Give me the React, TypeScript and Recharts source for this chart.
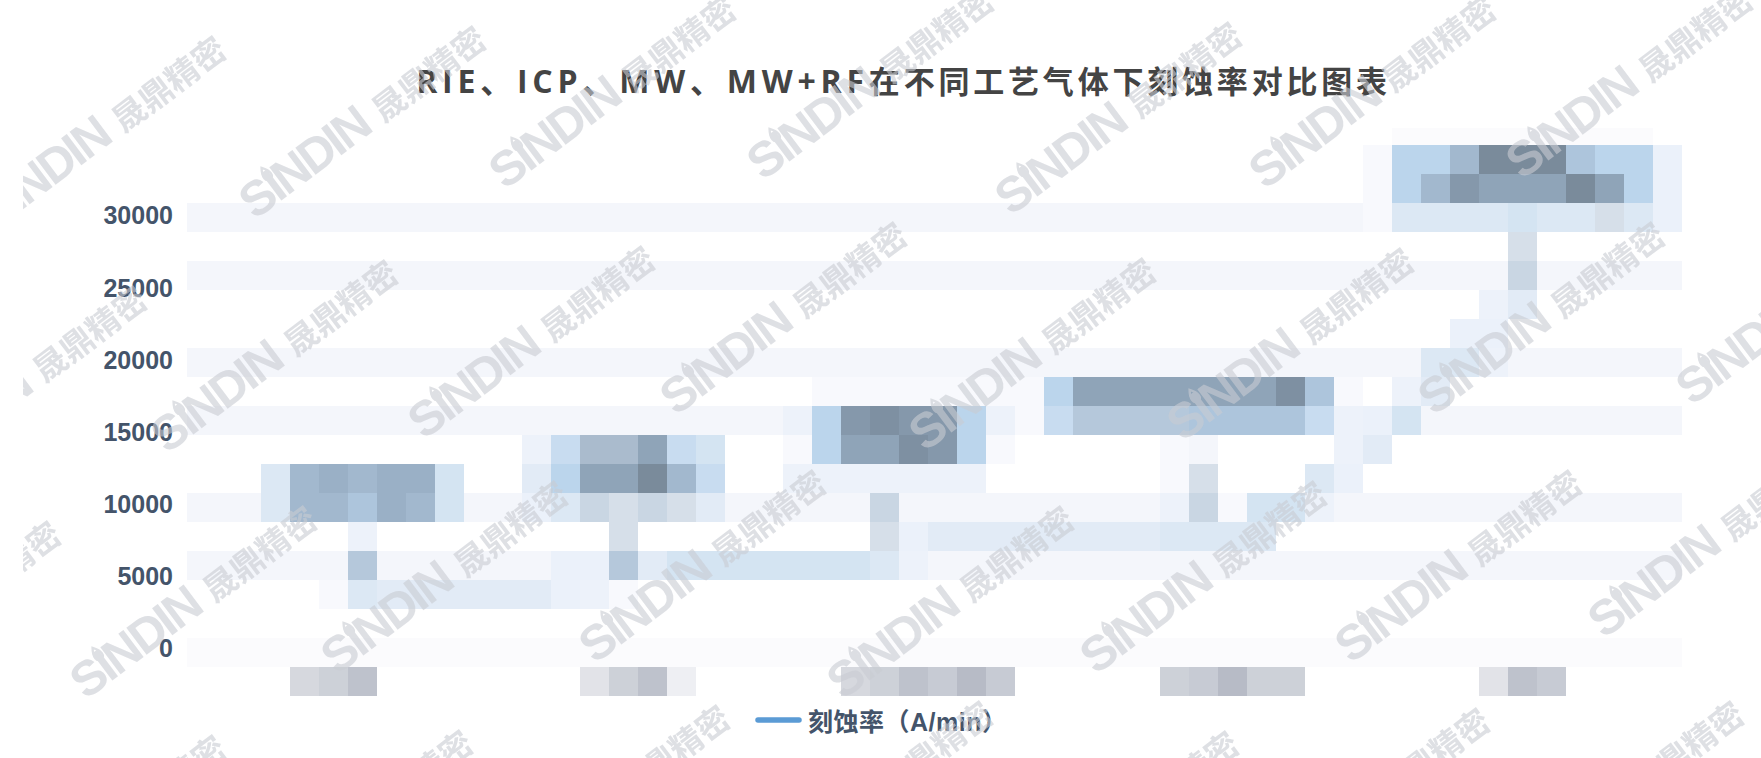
import React from "react";
import { ComposedChart, Line, XAxis, YAxis, ReferenceArea, Legend } from "recharts";

const TITLE_LATIN = "RIE、ICP、MW、MW+RF";
const TITLE_CJK = "在不同工艺气体下刻蚀率对比图表";
const SERIES_NAME = "刻蚀率（A/min）";
const yTicks = [0, 5000, 10000, 15000, 20000, 25000, 30000];

// The reference shows the marks only as a coarse mosaic: values are estimates and x labels are unreadable.
const categories = ["1", "2", "3", "4", "5"];
const etchRate = [3800, 5700, 7800, 7800, 30000];

// Mosaic shading: one level per cell. Each row lists runs of [first column, levels].
const rowRuns: [number, string][][] = [
  [[42, "ccccccccc"]],
  [[41, "djjotttkjjf"]],
  [[41, "djorqqqtqjf"]],
  [[41, "dgggghgglgf"]],
  [[46, "l"]],
  [[46, "m"]],
  [[45, "e2"]],
  [[44, "ff"]],
  [[43, "gge"]],
  [[22, "ddddddddjqqqqqqqskd.e2"]],
  [[21, "ejrsrrjedinnnnkkkkiefh"]],
  [[12, "eiPPqih"], [21, "djqqsrjd"], [34, "da"], [40, "e2"]],
  [[3, "gopopph"], [12, "2jqqtoi"], [21, "eeeeeee"], [34, "dl"], [39, "gf"]],
  [[3, "gookpoh"], [12, "fgmlml2"], [24, "m"], [34, "emdhhe"]],
  [[6, "e"], [15, "l"], [24, "lf"], [26, "22222222gggg"]],
  [[6, "n"], [13, "ffn2hhhhhhhge"]],
  [[5, "dg222222fed"]],
  [],
  [],
  [[4, "uvw"], [14, "xvwy"], [23, "uvwzBz"], [34, "vzBvv"], [45, "xwz"]],
];

const shades: Record<string, string> = {
  a: "#f4f6fb", c: "#fbfbfd", d: "#f8f9fd", e: "#edf2fa", f: "#ebf1fa", "2": "#e2ebf6",
  g: "#dce8f4", h: "#d4e4f2", i: "#c8dcf0", j: "#bbd5ec", k: "#adc5dc", l: "#d6dfe9",
  m: "#c9d6e3", n: "#b5c8db", o: "#a2b8ce", p: "#9ab0c6", P: "#aabbcd", q: "#8fa4b8",
  r: "#8598ab", s: "#7e90a2", t: "#7a8b9b", u: "#d6d8de", v: "#cdd1d8", w: "#bec2cc",
  x: "#e2e3e8", y: "#eeeff3", z: "#c7cbd4", B: "#b7bbc6",
};

const COLS = 52;
const ROWS = 20;

const BAND_ROWS: Record<number, string> = { 3: "a", 5: "a", 8: "a", 10: "a", 13: "a", 15: "a", 18: "c" };

type MosaicCell = { col: number; row: number; level: string };
const cells: MosaicCell[] = [];
for (let row = 0; row < ROWS; row++) {
  const levels: string[] = new Array(COLS).fill(BAND_ROWS[row] || ".");
  for (const [start, run] of rowRuns[row]) {
    run.split("").forEach((ch, i) => { levels[start + i] = ch; });
  }
  levels.forEach((level, col) => { if (level !== ".") cells.push({ col, row, level }); });
}

const chartData = categories.map((name, i) => ({ name, rate: etchRate[i], col: i }));

// Watermark anchors (position of the droplet over the logotype).
const marks: [number, number][] = [
  [1, 177], [261, 167], [511, 137], [769, 128], [1017, 163], [1271, 137], [1528, 127],
  [-78, 427], [173, 401], [430, 387], [682, 363], [931, 399], [1189, 389], [1440, 363], [1698, 353],
  [-164, 662], [92, 647], [343, 622], [601, 611], [849, 647], [1102, 622], [1357, 611], [1610, 586],
  [1, 876], [248, 871], [505, 846], [768, 842], [1014, 872], [1265, 849], [1519, 842],
];

const Cell = (p: any) => (
  <rect x={p.x} y={p.y} width={p.width} height={p.height} fill={p.fill} shapeRendering="crispEdges" />
);

const LegendBox = ({ payload }: any) => {
  const item = payload && payload[0];
  return (
    <div style={{ position: "absolute", left: 755, top: 702, height: 36, display: "flex", alignItems: "center", whiteSpace: "nowrap" }}>
      <svg width={47} height={36} style={{ display: "block" }}>
        <line x1={3} x2={44} y1={18} y2={18} stroke={item ? item.color : "#5b9bd5"} strokeOpacity={1} strokeWidth={5.5} strokeLinecap="round" />
      </svg>
      <span style={{ marginLeft: 6, font: '700 25px "Liberation Sans","Noto Sans CJK SC"', letterSpacing: 0.5, color: "#44546a" }}>{SERIES_NAME}</span>
    </div>
  );
};

const Watermark = () => (
  <svg width={1761} height={758} style={{ position: "absolute", left: 0, top: 0, pointerEvents: "none" }}>
    <defs>
      <clipPath id="wm"><rect x={23} y={0} width={1738} height={758} /></clipPath>
    </defs>
    <g clipPath="url(#wm)" opacity={0.6}>
      {marks.map(([x, y], i) => (
        <g key={i} transform={`translate(${x} ${y}) rotate(-37)`} fill="#c9ccd3">
          <path d="M0 1 C-6 9,-5 15,0 15 C5 15,6 9,0 1Z" fill="none" stroke="#c9ccd3" strokeWidth={2.4} />
          <text x={-37} y={39} style={{ font: '700 49px "Liberation Sans"', letterSpacing: -3 }}>
            SINDIN
            <tspan dx={13} style={{ font: '700 33px "Noto Sans CJK SC"', letterSpacing: 0 }}>晟鼎精密</tspan>
          </text>
        </g>
      ))}
    </g>
  </svg>
);

export default function App() {
  return (
    <div style={{ position: "absolute", left: 0, top: 0, width: 1761, height: 758, background: "#fff", overflow: "hidden" }}>
      <ComposedChart width={1761} height={758} data={chartData} margin={{ top: 128, right: 79, bottom: 62, left: 0 }}>
        <XAxis xAxisId="cats" dataKey="name" type="category" hide />
        <XAxis xAxisId="cols" dataKey="col" type="number" domain={[13 / 29, COLS]} hide allowDataOverflow />
        <YAxis
          yAxisId="rate"
          width={187}
          type="number"
          domain={[-3284, 36069]}
          ticks={yTicks}
          interval={0}
          allowDataOverflow
          axisLine={false}
          tickLine={false}
          tickMargin={8}
          tick={{ fill: "#44546a", fontSize: 25, fontWeight: 700, fontFamily: '"Liberation Sans"' }}
        />
        <YAxis yAxisId="rows" type="number" orientation="right" width={0} domain={[12 / 29, ROWS]} reversed hide allowDataOverflow />
        {cells.map((c, i) => (
          <ReferenceArea
            key={i}
            xAxisId="cols"
            yAxisId="rows"
            x1={Math.max(c.col, 13 / 29)}
            x2={c.col + 1}
            y1={Math.max(c.row, 12 / 29)}
            y2={c.row + 1}
            fill={shades[c.level]}
            fillOpacity={1}
            stroke="none"
            ifOverflow="visible"
            shape={Cell}
          />
        ))}
        <Line
          xAxisId="cats"
          yAxisId="rate"
          dataKey="rate"
          name={SERIES_NAME}
          stroke="#5b9bd5"
          strokeOpacity={0}
          dot={false}
          isAnimationActive={false}
        />
        <Legend height={0} wrapperStyle={{ left: 0, top: 0, width: 0, height: 0 }} content={<LegendBox />} />
      </ComposedChart>
      <div
        style={{
          position: "absolute", left: 0, width: 1761, top: 56, textAlign: "center", paddingLeft: 46, boxSizing: "border-box",
          color: "#444", lineHeight: "50px", whiteSpace: "nowrap",
        }}
      >
        <span style={{ font: '700 32px "Open Sans","Noto Sans CJK SC"', letterSpacing: 4.8 }}>{TITLE_LATIN}</span>
        <span style={{ font: '700 31px "Noto Sans CJK SC"', letterSpacing: 3.8 }}>{TITLE_CJK}</span>
      </div>
      <Watermark />
    </div>
  );
}
